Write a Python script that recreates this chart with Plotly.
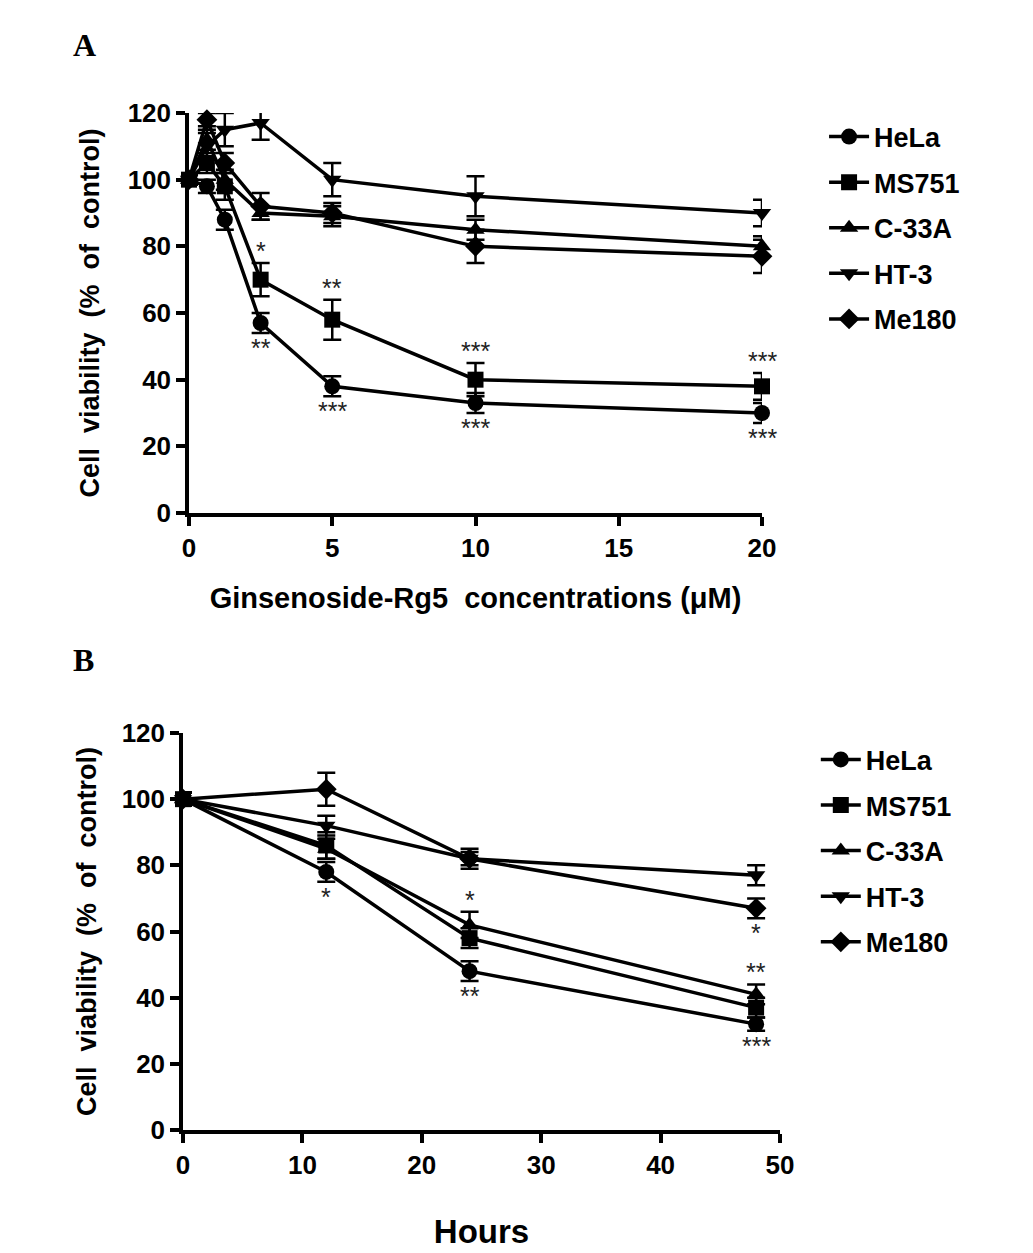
import plotly.graph_objects as go

# panel A: dose response (uM)
conc = [0, 0.625, 1.25, 2.5, 5, 10, 20]
a_hela = [100, 98, 88, 57, 38, 33, 30]
a_hela_err = [1.5, 2, 3, 3, 3, 3, 3]
a_ms751 = [100, 105, 98, 70, 58, 40, 38]
a_ms751_err = [1.5, 3, 4, 5, 6, 5, 4]
a_c33a = [100, 112, 100, 90, 89, 85, 80]
a_c33a_err = [1.5, 3, 3, 2, 3, 3, 3]
a_ht3 = [100, 110, 115, 117, 100, 95, 90]
a_ht3_err = [1.5, 4, 5, 5, 5, 6, 4]
a_me180 = [100, 118, 105, 92, 90, 80, 77]
a_me180_err = [1.5, 2, 3, 4, 3, 5, 5]

# panel B: time course (hours)
hours = [0, 12, 24, 48]
b_hela = [100, 78, 48, 32]
b_hela_err = [2, 3, 3, 2]
b_ms751 = [100, 86, 58, 37]
b_ms751_err = [2, 4, 3, 3]
b_c33a = [100, 85, 62, 41]
b_c33a_err = [2, 3, 4, 3]
b_ht3 = [100, 92, 82, 77]
b_ht3_err = [2, 3, 2, 3]
b_me180 = [100, 103, 82, 67]
b_me180_err = [2, 5, 3, 3]

names = ["HeLa", "MS751", "C-33A", "HT-3", "Me180"]
symbols = ["circle", "square", "triangle-up", "triangle-down", "diamond"]

# significance marks: (series, x index, text, above?)
a_stars = [("MS751", 3, "*", True), ("MS751", 4, "**", True), ("MS751", 5, "***", True),
           ("MS751", 6, "***", True), ("HeLa", 3, "**", False), ("HeLa", 4, "***", False),
           ("HeLa", 5, "***", False), ("HeLa", 6, "***", False)]
b_stars = [("HeLa", 1, "*", False), ("C-33A", 2, "*", True), ("HeLa", 2, "**", False),
           ("Me180", 3, "*", False), ("C-33A", 3, "**", True), ("HeLa", 3, "***", False)]

a_series = {"HeLa": (a_hela, a_hela_err), "MS751": (a_ms751, a_ms751_err),
            "C-33A": (a_c33a, a_c33a_err), "HT-3": (a_ht3, a_ht3_err),
            "Me180": (a_me180, a_me180_err)}
b_series = {"HeLa": (b_hela, b_hela_err), "MS751": (b_ms751, b_ms751_err),
            "C-33A": (b_c33a, b_c33a_err), "HT-3": (b_ht3, b_ht3_err),
            "Me180": (b_me180, b_me180_err)}

FONT = "Liberation Sans"
W, H = 1033, 1253
OFF = 8  # page body margin


def px_x(p):
    return (p - OFF) / W


def px_y(p):
    return 1 - (p - OFF) / H


fig = go.Figure()


def add_panel(xs, series, xref, yref, legend):
    for name, sym in zip(names, symbols):
        ys, errs = series[name]
        fig.add_trace(go.Scatter(
            x=xs, y=ys, name=name, mode="lines+markers",
            xaxis=xref, yaxis=yref, legend=legend, legendgroup=legend + name,
            line=dict(color="black", width=3.5),
            marker=dict(symbol=sym, size=16, color="black"),
            error_y=dict(type="data", array=errs, color="black", thickness=2.5, width=9),
            cliponaxis=False,
        ))


def add_stars(xs, series, stars, xref, yref, size):
    for name, i, txt, above in stars:
        ys, errs = series[name]
        if above:
            y, shift, anchor = ys[i] + errs[i], -4, "bottom"
        else:
            y, shift, anchor = ys[i] - errs[i], 1, "top"
        fig.add_annotation(x=xs[i], y=y, xref=xref, yref=yref, text=txt,
                           showarrow=False, yanchor=anchor, yshift=shift,
                           font=dict(family=FONT, size=size, color="#222"))


add_panel(conc, a_series, "x", "y", "legend")
add_panel(hours, b_series, "x2", "y2", "legend2")
add_stars(conc, a_series, a_stars, "x", "y", 25)
add_stars(hours, b_series, b_stars, "x2", "y2", 25)

axis_common = dict(showline=True, linecolor="black", linewidth=3.5, ticks="outside",
                   ticklen=9, tickwidth=3.5, tickcolor="black", showgrid=False,
                   zeroline=False, automargin=False,
                   tickfont=dict(family=FONT, size=26, color="black", weight="bold"))

fig.update_layout(
    width=W, height=H,
    margin=dict(l=0, r=0, t=0, b=0),
    paper_bgcolor="white", plot_bgcolor="white",
    xaxis=dict(axis_common, domain=[px_x(189), px_x(762)], range=[0, 20],
               tickvals=[0, 5, 10, 15, 20], anchor="y",
               title=dict(text="Ginsenoside-Rg5  concentrations (μM)", standoff=27,
                          font=dict(family=FONT, size=29, color="black", weight="bold"))),
    yaxis=dict(axis_common, domain=[px_y(513), px_y(113)], range=[0, 120], dtick=20, anchor="x",
               title=dict(text="Cell  viability  (%  of  control)", standoff=21,
                          font=dict(family=FONT, size=27, color="black", weight="bold"))),
    xaxis2=dict(axis_common, domain=[px_x(183), px_x(780)], range=[0, 50], dtick=10, anchor="y2",
                title=dict(text="Hours", standoff=42,
                           font=dict(family=FONT, size=33, color="black", weight="bold"))),
    yaxis2=dict(axis_common, domain=[px_y(1130), px_y(733)], range=[0, 120], dtick=20,
                anchor="x2",
                title=dict(text="Cell  viability  (%  of  control)", standoff=18,
                           font=dict(family=FONT, size=27, color="black", weight="bold"))),
    legend=dict(x=0.790, y=0.9166, xanchor="left", yanchor="top", tracegroupgap=7.5,
                itemwidth=40, bgcolor="rgba(0,0,0,0)",
                font=dict(family=FONT, size=27, color="black", weight="bold")),
    legend2=dict(x=0.782, y=0.4195, xanchor="left", yanchor="top", tracegroupgap=7.5,
                 itemwidth=40, bgcolor="rgba(0,0,0,0)",
                 font=dict(family=FONT, size=27, color="black", weight="bold")),
)

for letter, xp, yp in [("A", 63, 17), ("B", 63, 652)]:
    fig.add_annotation(x=xp / W, y=1 - yp / H, xref="paper", yref="paper", text=letter,
                       showarrow=False, font=dict(family="Liberation Serif", size=32,
                                                  color="black", weight="bold"))

fig.write_html("out.html")
